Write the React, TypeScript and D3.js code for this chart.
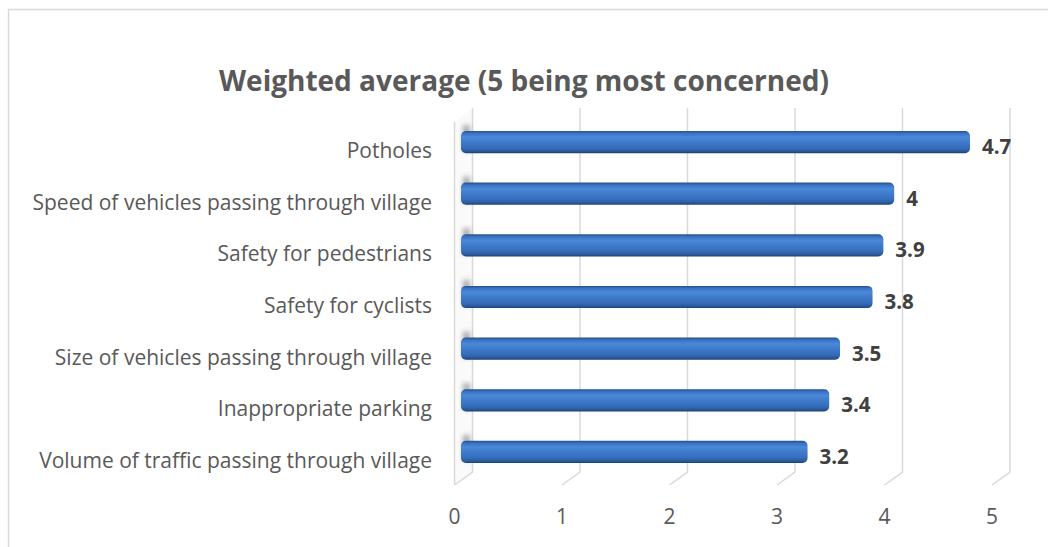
import * as d3 from "d3";

const categories = [
  "Potholes",
  "Speed of vehicles passing through village",
  "Safety for pedestrians",
  "Safety for cyclists",
  "Size of vehicles passing through village",
  "Inappropriate parking",
  "Volume of traffic passing through village",
];
const values = [4.7, 4, 3.9, 3.8, 3.5, 3.4, 3.2];
const ticks = [0, 1, 2, 3, 4, 5];
const title = "Weighted average (5 being most concerned)";

const width = 1048;
const height = 547;
const depthX = 18; // 3D offset back wall -> front
const depthY = 13;
const wallTop = 108;
const wallBottom = 472;

const font = "'Open Sans', sans-serif";

export default function App() {
  const xBack = d3.scaleLinear().domain([0, 5]).range([472.5, 1010]);
  const xBar = d3.scaleLinear().domain([0, 5]).range([461, 1002.5]);
  const y = d3
    .scaleBand<string>()
    .domain(categories)
    .range([116.2, 477.8])
    .paddingInner(0.57)
    .paddingOuter(0.285);

  const bw = y.bandwidth();

  return (
    <svg
      width={width}
      height={height}
      style={{ position: "absolute", left: 0, top: 0, background: "#fff" }}
    >
      <defs>
        <linearGradient id="barGrad" x1="0" y1="0" x2="0" y2="1">
          <stop offset="0" stopColor="#23508f" />
          <stop offset="0.12" stopColor="#3a74c4" />
          <stop offset="0.28" stopColor="#4b88d8" />
          <stop offset="0.5" stopColor="#3f7bcb" />
          <stop offset="0.78" stopColor="#346cb9" />
          <stop offset="0.92" stopColor="#2a5799" />
          <stop offset="1" stopColor="#1d3f71" />
        </linearGradient>
        <filter id="blur" x="-50%" y="-50%" width="200%" height="200%">
          <feGaussianBlur stdDeviation="2.5" />
        </filter>
      </defs>

      {/* chart area border (runs off the right and bottom edges) */}
      <rect
        x={8.5}
        y={9.5}
        width={width + 20}
        height={height + 20}
        fill="#fff"
        stroke="#d9d9d9"
        strokeWidth={1.5}
      />

      <text
        x={524}
        y={91}
        textAnchor="middle"
        fontFamily={font}
        fontWeight="bold"
        fontSize={28}
        fill="#595959"
      >
        {title}
      </text>

      {/* left side wall */}
      <path
        d={`M${xBack(0)},${wallTop} L${xBack(0) - depthX},${wallTop + depthY + 1} L${xBack(0) - depthX},${wallBottom + depthY} L${xBack(0)},${wallBottom} Z`}
        fill="#fafafa"
        stroke="none"
      />
      <line
        x1={xBack(0) - depthX}
        x2={xBack(0) - depthX}
        y1={wallTop + depthY + 1}
        y2={wallBottom + depthY}
        stroke="#d9d9d9"
        strokeWidth={1.5}
      />

      {/* back wall gridlines with floor diagonals */}
      {ticks.map((t) => (
        <path
          key={t}
          d={`M${xBack(t)},${wallTop} L${xBack(t)},${wallBottom} L${xBack(t) - depthX},${wallBottom + depthY}`}
          fill="none"
          stroke="#d9d9d9"
          strokeWidth={1.5}
        />
      ))}

      {/* bar shadows on the side wall */}
      {categories.map((c) => (
        <rect
          key={c}
          x={xBar(0) + 2}
          y={(y(c) ?? 0) - 6}
          width={7}
          height={bw + 4}
          fill="#6b6b6b"
          opacity={0.55}
          filter="url(#blur)"
        />
      ))}

      {/* bars */}
      {categories.map((c, i) => (
        <rect
          key={c}
          x={xBar(0)}
          y={y(c)}
          width={xBar(values[i]) - xBar(0)}
          height={bw}
          rx={5}
          fill="url(#barGrad)"
        />
      ))}

      {/* value labels */}
      {categories.map((c, i) => (
        <text
          key={c}
          x={xBar(values[i]) + 12}
          y={(y(c) ?? 0) + bw / 2 + 4}
          dominantBaseline="central"
          fontFamily={font}
          fontWeight="bold"
          fontSize={20.5}
          fill="#404040"
        >
          {values[i]}
        </text>
      ))}

      {/* category labels */}
      {categories.map((c) => (
        <text
          key={c}
          x={432}
          y={(y(c) ?? 0) + bw / 2 + 8}
          textAnchor="end"
          dominantBaseline="central"
          fontFamily={font}
          fontSize={21}
          fill="#595959"
        >
          {c}
        </text>
      ))}

      {/* value axis tick labels */}
      {ticks.map((t) => (
        <text
          key={t}
          x={xBack(t) - depthX}
          y={516}
          textAnchor="middle"
          dominantBaseline="central"
          fontFamily={font}
          fontSize={21}
          fill="#595959"
        >
          {t}
        </text>
      ))}
    </svg>
  );
}
